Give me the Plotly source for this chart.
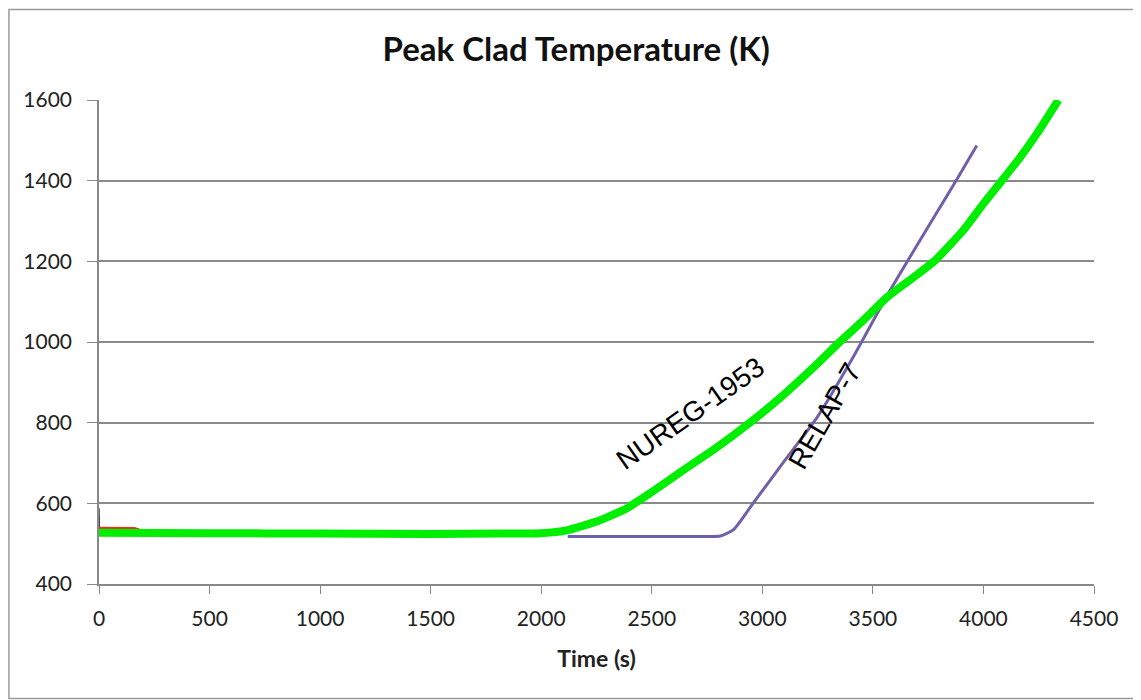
import plotly.graph_objects as go

# NUREG-1953 (green)
nureg_t = [0, 500, 1000, 1500, 1800, 2000, 2116, 2266, 2388, 2492, 2642, 2795, 2944, 3094, 3247,
           3340, 3420, 3487, 3562, 3638, 3700, 3781, 3909, 4000, 4083, 4166, 4241, 4339]
nureg_T = [527, 526, 525, 524, 525, 526, 533, 558, 588, 625, 682, 739, 800, 868, 945,
           995, 1035, 1070, 1110, 1142, 1167, 1202, 1277, 1343, 1400, 1458, 1516, 1600]

# RELAP-7 (purple)
relap_t = [2120, 2500, 2760, 2810, 2870, 2958, 3100, 3250, 3400, 3580, 3876, 3970]
relap_T = [518, 518, 518, 519, 535, 600, 705, 815, 952, 1130, 1400, 1487]

# short red series at start (mostly hidden)
red_t = [0, 160, 220, 600]
red_T = [539, 538, 528, 527]

# initial spike at t=0
spike_t = [0, 2]
spike_T = [588, 522]

x_ticks = [0, 500, 1000, 1500, 2000, 2500, 3000, 3500, 4000, 4500]
y_ticks = [400, 600, 800, 1000, 1200, 1400, 1600]

fig = go.Figure()
fig.add_trace(go.Scatter(x=spike_t, y=spike_T, mode="lines",
                         line=dict(color="#444444", width=1.5), showlegend=False))
fig.add_trace(go.Scatter(x=red_t, y=red_T, mode="lines",
                         line=dict(color="#e8321e", width=2.5), showlegend=False))
fig.add_trace(go.Scatter(x=relap_t, y=relap_T, mode="lines",
                         line=dict(color="#7060aa", width=3, shape="spline", smoothing=0.6),
                         showlegend=False))
fig.add_trace(go.Scatter(x=nureg_t, y=nureg_T, mode="lines",
                         line=dict(color="#00ee00", width=8, shape="spline", smoothing=0.5),
                         showlegend=False))

fig.add_annotation(x=2674, y=823, text="NUREG-1953", showarrow=False, textangle=-35,
                   font=dict(family="Liberation Sans, Arial", size=28, color="black"))
fig.add_annotation(x=3283, y=818, text="RELAP-7", showarrow=False, textangle=-60,
                   font=dict(family="Liberation Sans, Arial", size=28, color="black"))

fig.add_shape(type="rect", xref="paper", yref="paper", x0=-0.0905, x1=1.046, y0=-0.2366, y1=1.187,
              line=dict(color="#9a9a9a", width=1.5), layer="below")

fig.update_layout(
    width=1141, height=700,
    margin=dict(l=91, r=55, t=92, b=124),
    paper_bgcolor="white", plot_bgcolor="white",
    title=dict(text="<b>Peak Clad Temperature (K)</b>", x=0.498, xanchor="center",
               y=0.941, yanchor="middle",
               font=dict(family="Lato", size=33, color="#111111")),
    xaxis=dict(range=[0, 4500], tickvals=x_ticks, ticks="outside", ticklen=8, tickcolor="#888888",
               showline=True, linecolor="#888888", linewidth=1.5, showgrid=False, zeroline=False,
               tickfont=dict(family="Lato", size=21, color="#222222"), ticklabelstandoff=7,
               title=dict(text="<b>Time (s)</b>", font=dict(family="Lato", size=23, color="#222222"),
                          standoff=22)),
    yaxis=dict(range=[400, 1600], tickvals=y_ticks, ticks="outside", ticklen=10, tickcolor="#888888",
               showline=True, linecolor="#888888", linewidth=1.5, showgrid=True,
               gridcolor="#8a8a8a", gridwidth=1.5, zeroline=False,
               tickfont=dict(family="Lato", size=21, color="#222222"), ticklabelstandoff=11),
)

fig.write_html("out.html")
